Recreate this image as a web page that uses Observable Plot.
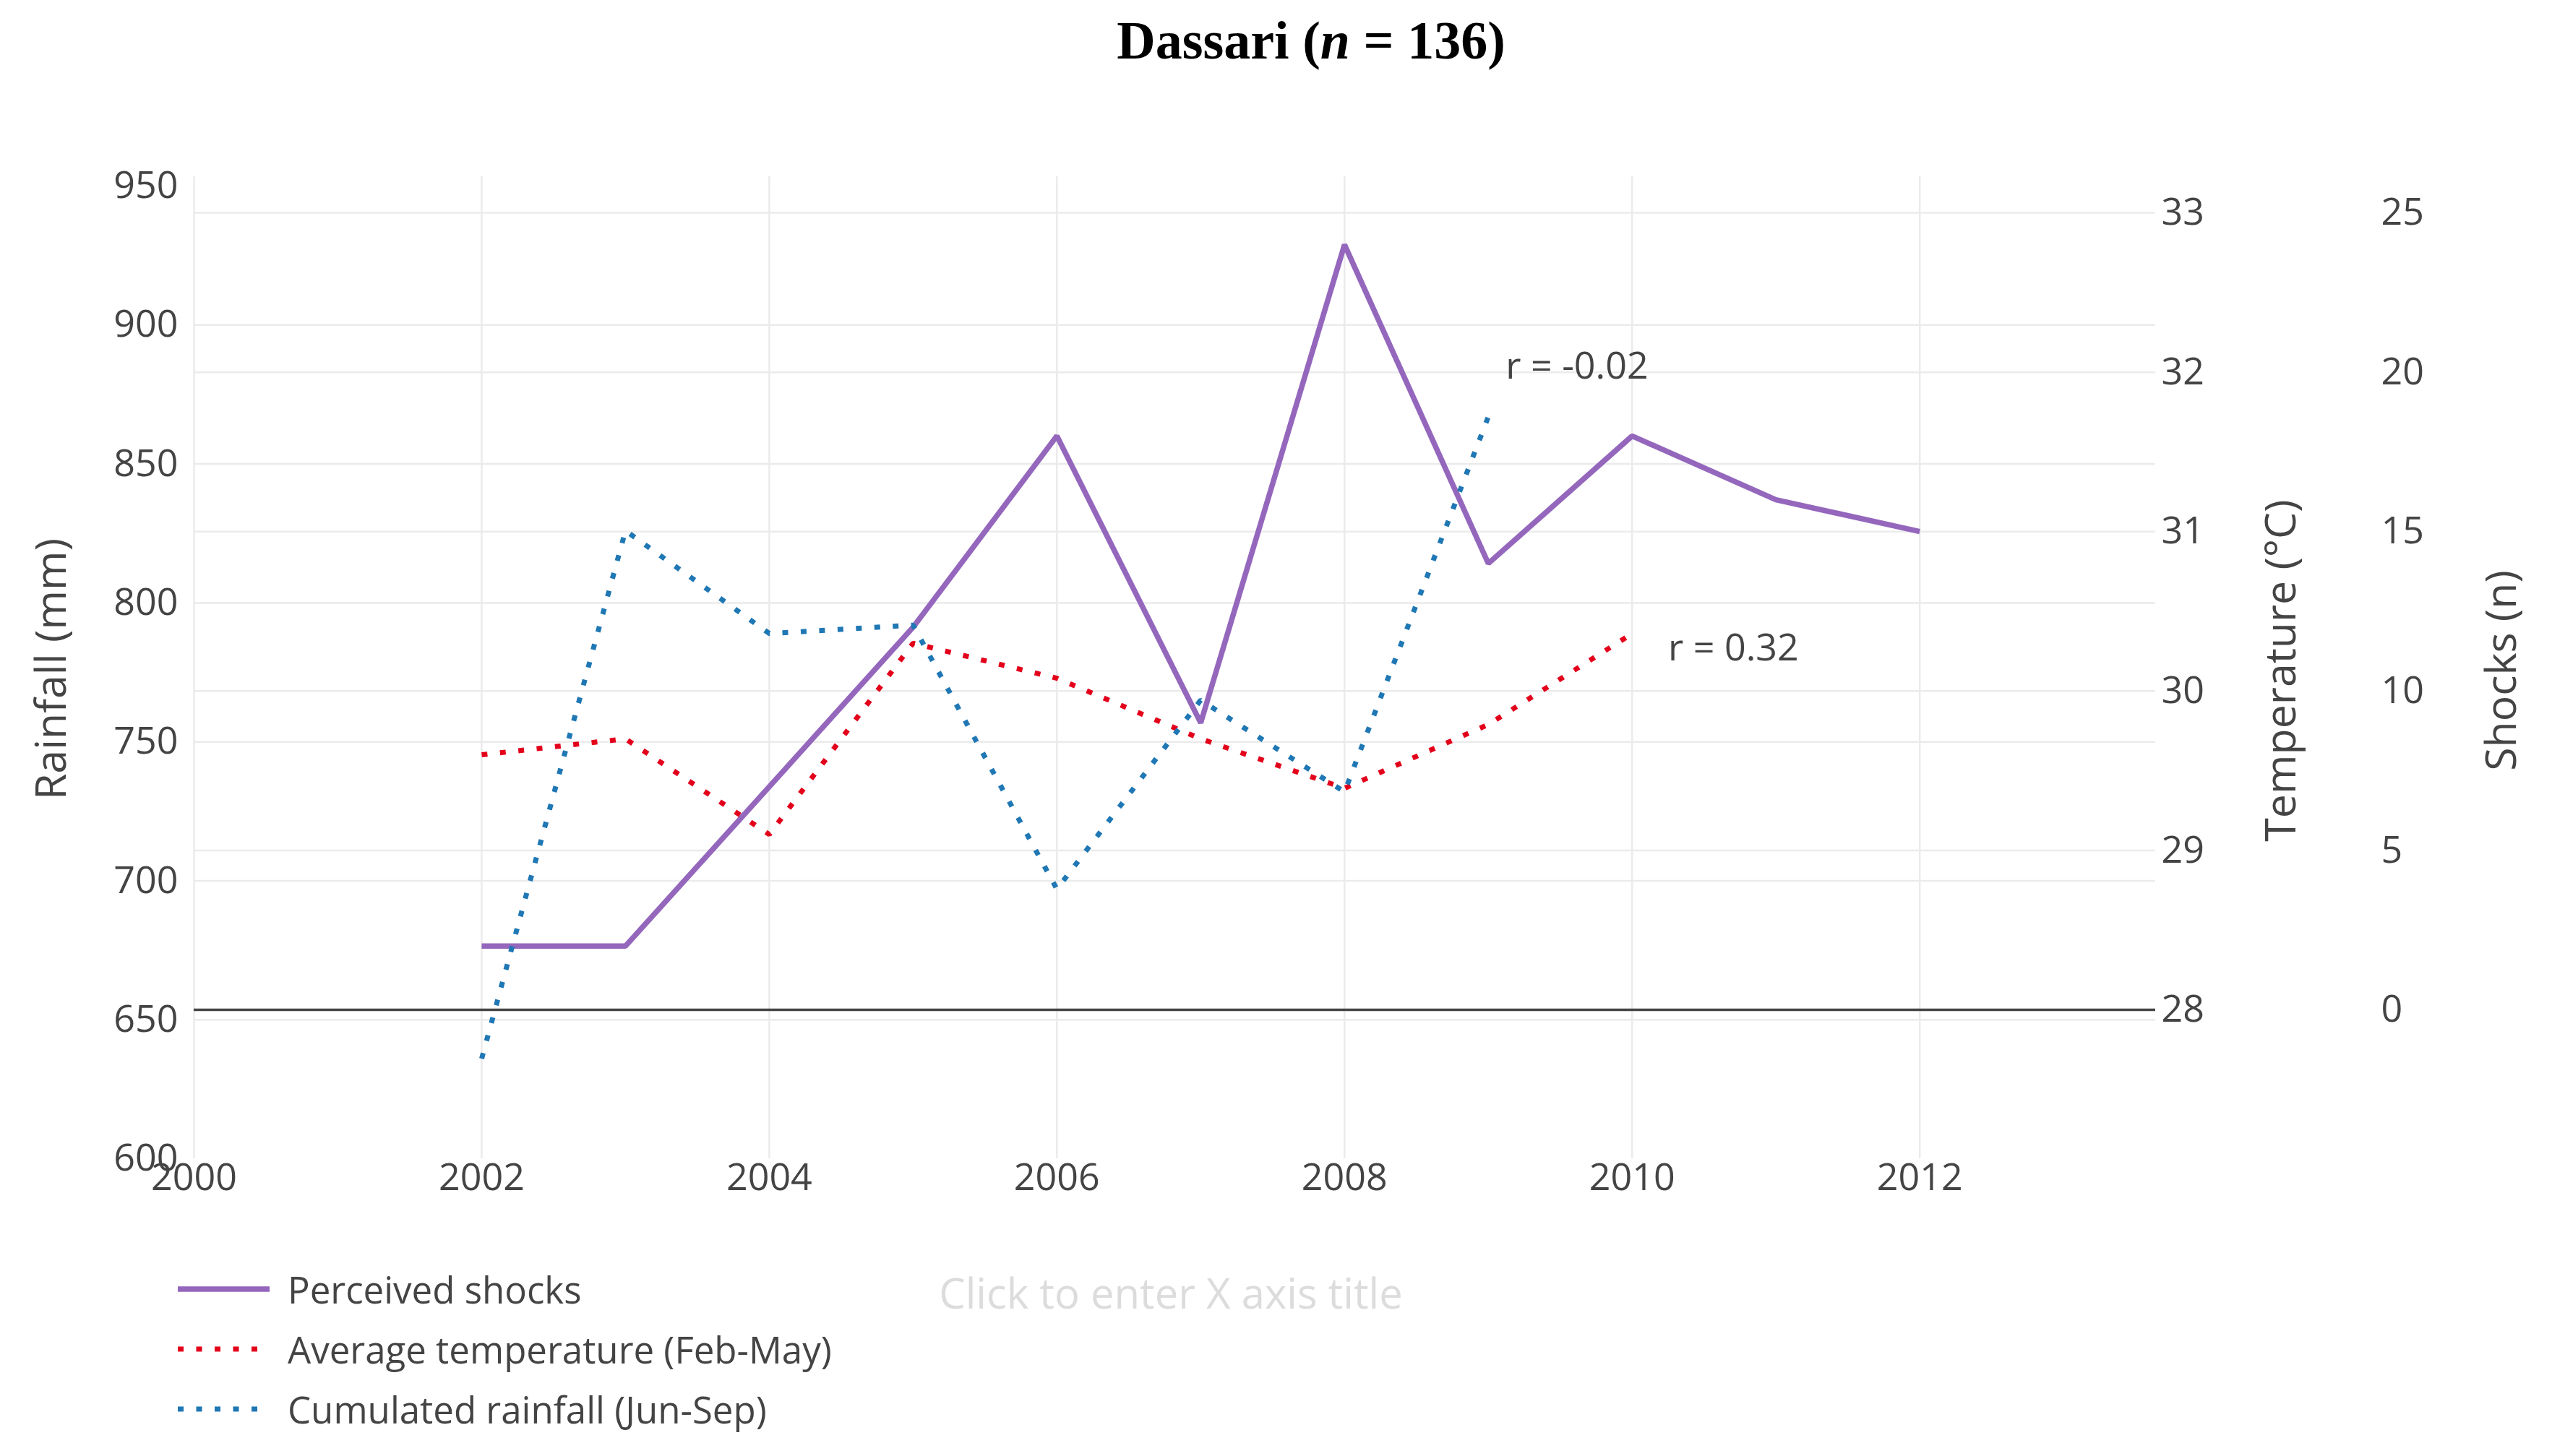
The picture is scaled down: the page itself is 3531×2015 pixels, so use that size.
<!DOCTYPE html>
<html>
<head>
<meta charset="utf-8">
<script src="https://cdn.jsdelivr.net/npm/d3@7"></script>
<script src="https://cdn.jsdelivr.net/npm/@observablehq/plot@0.6"></script>
<style>
html, body { margin: 0; padding: 0; background: #fff; }
#chart { position: relative; width: 3531px; height: 2015px; overflow: hidden; font-family: "Open Sans", sans-serif; color: #444; }
#chart svg.layer { position: absolute; left: 0; top: 0; }
.t { position: absolute; white-space: nowrap; line-height: 1; }
</style>
</head>
<body>
<div id="chart"></div>
<script>
// ---------- data ----------
const shockYears = [2002, 2003, 2004, 2005, 2006, 2007, 2008, 2009, 2010, 2011, 2012];
const shockValues = [2, 2, 7, 12, 18, 9, 24, 14, 18, 16, 15];

const tempYears = [2002, 2003, 2004, 2005, 2006, 2007, 2008, 2009, 2010];
const tempValues = [29.6, 29.7, 29.1, 30.3, 30.08, 29.7, 29.39, 29.79, 30.36];

const rainYears = [2002, 2003, 2004, 2005, 2006, 2007, 2008, 2009];
const rainValues = [636, 826, 789, 792, 697, 765, 732, 867];

const xTicks = [2000, 2002, 2004, 2006, 2008, 2010, 2012];
const rainTicks = [600, 650, 700, 750, 800, 850, 900, 950];
const rainGrid = [650, 700, 750, 800, 850, 900];
const tempTicks = [28, 29, 30, 31, 32, 33];
const tempGrid = [29, 30, 31, 32, 33];
const shockTicks = [0, 5, 10, 15, 20, 25];

const annotLabels = ["r = -0.02", "r = 0.32"];
const annotYears = [2009.12, 2010.25];
const annotRain = [885, 783.5];

const seriesNames = ["Perceived shocks", "Average temperature (Feb-May)", "Cumulated rainfall (Jun-Sep)"];
const seriesColors = ["#9467bd", "#e3001b", "#1f77b4"];

// ---------- tables ----------
const shockData = shockYears.map((year, i) => ({year, value: shockValues[i]}));
const tempData = tempYears.map((year, i) => ({year, value: tempValues[i]}));
const rainData = rainYears.map((year, i) => ({year, value: rainValues[i]}));
const annots = annotLabels.map((label, i) => ({label, year: annotYears[i], value: annotRain[i]}));

// ---------- layout ----------
const W = 3531, H = 2015;
const xDomain = [2000, 2013.64];
const rainDomain = [600, 953.4];
const tempDomain = [27.066, 33.227];
const shockDomain = [-4.669, 26.133];
const FONT = "Open Sans";
const TICK_FS = 52;
const DOT = "8,17.5";

function layer(yDomain, marks) {
  const svg = Plot.plot({
    width: W, height: H,
    marginLeft: 268, marginRight: 549, marginTop: 244, marginBottom: 412,
    x: {domain: xDomain, axis: null},
    y: {domain: yDomain, axis: null},
    style: {background: "transparent", fontFamily: FONT, color: "#444", overflow: "visible"},
    marks
  });
  svg.classList.add("layer");
  return svg;
}

const chart = document.getElementById("chart");

// layer 0: rainfall grid + left/bottom axes
chart.appendChild(layer(rainDomain, [
  Plot.ruleY(rainGrid, {stroke: "#ebebeb", strokeWidth: 2.5}),
  Plot.ruleX(xTicks, {stroke: "#ebebeb", strokeWidth: 2.5}),
  Plot.axisY({ticks: rainTicks, anchor: "left", tickSize: 0, tickPadding: 22, fontSize: TICK_FS, label: null, tickFormat: d3.format("d")}),
  Plot.axisX({ticks: xTicks, anchor: "bottom", tickSize: 0, tickPadding: 7, fontSize: TICK_FS, label: null, tickFormat: d3.format("d")})
]));

// layer 1: temperature grid + zero line + right axis
chart.appendChild(layer(tempDomain, [
  Plot.ruleY(tempGrid, {stroke: "#ebebeb", strokeWidth: 2.5}),
  Plot.ruleY([tempTicks[0]], {stroke: "#444", strokeWidth: 3.5}),
  Plot.axisY({ticks: tempTicks, anchor: "right", tickSize: 0, tickPadding: 8, fontSize: TICK_FS, label: null, tickFormat: d3.format("d")})
]));

// layer 2: shocks axis + purple line
chart.appendChild(layer(shockDomain, [
  Plot.axisY({ticks: shockTicks, anchor: "right", tickSize: 0, tickPadding: 312, fontSize: TICK_FS, label: null, tickFormat: d3.format("d")}),
  Plot.line(shockData, {x: "year", y: "value", stroke: seriesColors[0], strokeWidth: 7.5, strokeLinejoin: "miter", strokeLinecap: "butt"})
]));

// layer 3: temperature red dotted line
chart.appendChild(layer(tempDomain, [
  Plot.line(tempData, {x: "year", y: "value", stroke: seriesColors[1], strokeWidth: 7, strokeDasharray: DOT, strokeLinecap: "butt", strokeLinejoin: "miter"})
]));

// layer 4: rainfall blue dotted line + annotations
chart.appendChild(layer(rainDomain, [
  Plot.line(rainData, {x: "year", y: "value", stroke: seriesColors[2], strokeWidth: 7, strokeDasharray: DOT, strokeLinecap: "butt", strokeLinejoin: "miter"}),
  Plot.text(annots, {x: "year", y: "value", text: "label", textAnchor: "start", fontSize: 52, fill: "#444"})
]));

// ---------- HTML text ----------
function addText(html, css) {
  const d = document.createElement("div");
  d.className = "t";
  d.innerHTML = html;
  Object.assign(d.style, css);
  chart.appendChild(d);
  return d;
}

// title
addText('Dassari (<i>n</i> = 136)', {
  left: "1814px", top: "19px", transform: "translateX(-50%)",
  fontFamily: '"Liberation Serif", serif', fontWeight: "bold", fontSize: "74px", color: "#000"
});

// axis titles
addText("Rainfall (mm)", {left: "68px", top: "926px", transform: "translate(-50%,-50%) rotate(-90deg)", fontSize: "59px"});
addText("Temperature (°C)", {left: "3153px", top: "928px", transform: "translate(-50%,-50%) rotate(-90deg)", fontSize: "59px"});
addText("Shocks (n)", {left: "3458px", top: "928px", transform: "translate(-50%,-50%) rotate(-90deg)", fontSize: "59px"});
addText("Click to enter X axis title", {left: "1620px", top: "1760px", transform: "translateX(-50%)", fontSize: "58px", color: "#dcdcdc"});

// legend
const rowCenters = [1786, 1869, 1952];
seriesNames.forEach((name, i) => {
  const cy = rowCenters[i];
  const sw = document.createElementNS("http://www.w3.org/2000/svg", "svg");
  sw.setAttribute("width", 130);
  sw.setAttribute("height", 20);
  sw.style.position = "absolute";
  sw.style.left = "246px";
  sw.style.top = (cy - 12) + "px";
  const ln = document.createElementNS("http://www.w3.org/2000/svg", "line");
  ln.setAttribute("x1", 0); ln.setAttribute("x2", 127);
  ln.setAttribute("y1", 10); ln.setAttribute("y2", 10);
  ln.setAttribute("stroke", seriesColors[i]);
  ln.setAttribute("stroke-width", i === 0 ? 7.5 : 7);
  if (i > 0) ln.setAttribute("stroke-dasharray", DOT);
  sw.appendChild(ln);
  chart.appendChild(sw);
  addText(name, {left: "398px", top: (cy - 27.5) + "px", fontSize: "51px"});
});
</script>
</body>
</html>
